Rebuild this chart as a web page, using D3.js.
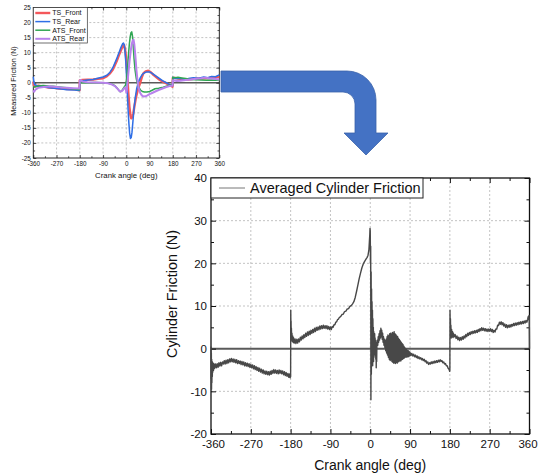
<!DOCTYPE html>
<html>
<head>
<meta charset="utf-8">
<script src="https://cdn.jsdelivr.net/npm/d3@7/dist/d3.min.js"></script>
<style>
body { margin: 0; background: #fff; }
text { font-family: "Liberation Sans", Arial, sans-serif; fill: #111; }
</style>
</head>
<body>
<svg id="fig" width="538" height="476"></svg>
<script>
// ---- data: small chart (measured friction per sensor) ----
var angleTicks = [-360, -270, -180, -90, 0, 90, 180, 270, 360];
var smallYTicks = [-25, -20, -15, -10, -5, 0, 5, 10, 15, 20, 25];
var smallNames = ["TS_Front", "TS_Rear", "ATS_Front", "ATS_Rear"];
var smallColors = ["#f4575a", "#2f6fe6", "#2fa653", "#b982ec"];
var smallWidths = [2.4, 1.5, 1.5, 2];

var tsFront = [[-360,0.4],[-358,-0.9],[-354,-1.2],[-340,-1.0],[-320,-1.3],[-300,-1.6],[-280,-1.7],[-260,-1.9],[-240,-2.0],[-220,-2.1],[-200,-2.2],[-181,-2.5],[-180,0.8],[-170,0.9],[-150,1.0],[-128,1.1],[-110,1.3],[-90,1.5],[-75,2.2],[-63,3.1],[-52,4.4],[-44,5.9],[-37,7.2],[-31,8.6],[-24,10.1],[-18,11.4],[-13,12.2],[-9,12.5],[-5,11.2],[-1,8.6],[2,5],[5,0.9],[8,-3.5],[12,-8],[16,-10.8],[19,-11.8],[23,-11.5],[27,-10.2],[32,-7.5],[38,-4.6],[45,-2.2],[53,-0.2],[60,1.8],[66,3.1],[75,3.8],[85,4.0],[95,3.5],[105,2.6],[118,1.7],[130,0.9],[143,0.3],[156,-0.2],[168,-0.8],[179,-1.3],[180,1.6],[188,1.6],[200,1.4],[220,1.2],[240,1.1],[260,1.3],[280,1.4],[300,1.5],[320,1.6],[340,1.8],[360,2.0]];

var tsRear = [[-360,2.0],[-358,0.5],[-355,-0.6],[-347,-0.9],[-330,-1.2],[-310,-1.5],[-296,-1.7],[-270,-1.9],[-250,-2.1],[-231,-2.3],[-200,-2.4],[-181,-2.6],[-180,0.4],[-170,0.7],[-150,0.9],[-128,1.1],[-110,1.5],[-90,1.9],[-75,2.5],[-63,3.5],[-52,5.0],[-44,6.6],[-37,8.0],[-30,9.6],[-24,11.0],[-18,12.3],[-14,13.0],[-11,13.2],[-8,12.6],[-5,10.5],[-2,7],[1,2],[4,-3.5],[7,-9],[10,-13.5],[13,-16.8],[16,-18.5],[19,-18.2],[22,-16.5],[26,-12.5],[30,-8.5],[35,-4.8],[40,-2],[47,0.3],[55,1.8],[62,2.8],[70,3.3],[80,3.6],[90,3.6],[100,3.1],[110,2.5],[125,1.6],[140,0.7],[155,0],[168,-0.6],[179,-1.0],[180,1.8],[190,1.4],[205,1.5],[220,1.2],[240,1.4],[260,1.7],[280,1.5],[300,1.9],[315,1.7],[330,2.1],[345,2.0],[360,2.6]];

var atsFront = [[-360,-1.2],[-355,-1.4],[-340,-1.1],[-322,-0.9],[-300,-1.1],[-283,-1.2],[-260,-1.4],[-231,-1.7],[-210,-2.0],[-181,-2.3],[-180,0.1],[-150,0.0],[-120,0.1],[-90,0.0],[-70,-0.2],[-55,-0.5],[-44,-1.0],[-35,-1.8],[-28,-2.6],[-24,-3.0],[-19,-2.8],[-14,-2.2],[-8,-1.4],[-3,-0.8],[0,0.5],[3,3],[6,6.5],[9,10],[12,13],[15,15.2],[18,16.6],[21,16.9],[24,15.5],[27,12],[30,8],[34,4.2],[39,1.2],[44,-0.6],[48,-1.5],[55,-2.4],[62,-2.9],[70,-3.1],[80,-3.1],[90,-2.9],[100,-2.5],[111,-2.0],[125,-1.8],[143,-1.5],[158,-1.1],[170,-0.8],[179,-0.6],[180,1.8],[190,1.7],[200,1.8],[215,1.6],[230,1.4],[250,1.1],[270,1.0],[290,0.9],[310,0.8],[330,0.9],[345,0.8],[360,0.9]];

var atsRear = [[-360,-2.5],[-357,-3.0],[-352,-2.3],[-341,-1.7],[-320,-1.4],[-296,-1.2],[-270,-1.4],[-250,-1.6],[-231,-1.7],[-205,-1.8],[-181,-1.9],[-180,0.8],[-176,0.9],[-170,0.4],[-150,0.2],[-120,0.1],[-90,0.0],[-70,-0.2],[-55,-0.6],[-44,-1.1],[-35,-1.9],[-28,-2.6],[-23,-2.9],[-18,-2.8],[-12,-2.3],[-6,-1.6],[-2,-1.8],[0,-3.3],[2,-2.5],[5,0.5],[9,4],[13,7.5],[17,10.5],[21,12.8],[25,14.1],[28,14.3],[31,12.8],[35,9],[39,4.5],[43,1],[48,-1.8],[54,-3.4],[60,-4.2],[67,-4.6],[74,-4.5],[82,-4.2],[90,-3.8],[100,-3.4],[112,-2.9],[125,-2.4],[140,-1.9],[155,-1.4],[168,-1.1],[179,-0.9],[180,0.8],[195,0.6],[210,0.7],[230,0.9],[250,1.1],[270,1.3],[290,1.5],[305,1.7],[320,1.5],[340,1.3],[360,1.1]];

var smallSeries = [tsFront, tsRear, atsFront, atsRear];

// ---- data: big chart (averaged cylinder friction) ----
var bigYTicks = [-20, -10, 0, 10, 20, 30, 40];
var bigLegend = "Averaged Cylinder Friction";

var avgSeg1 = [[-360,0.5],[-359.6,-7],[-359.2,-1],[-358.8,-9.5],[-358.4,-2.5],[-358,-8],[-357.5,-3],[-357,-6.5],[-356.5,-3.2],[-356,-5.5],[-355,-3.4],[-354,-5],[-353,-3.6],[-352,-4.6],[-350,-3.6],[-348,-4.5],[-346,-3.5],[-344,-4.4],[-342,-3.3],[-340,-4.1],[-338,-3.2],[-336,-4.0],[-334,-3.1],[-332,-3.6],[-330,-2.8],[-328,-3.6],[-326,-2.7],[-324,-3.5],[-322,-2.6],[-320,-3.3],[-318,-2.4],[-316,-3.1],[-314,-2.3],[-312,-3.1],[-310,-2.4],[-308,-3.2],[-306,-2.5],[-304,-3.3],[-302,-2.6],[-300,-3.5],[-298,-2.8],[-296,-3.5],[-294,-2.9],[-292,-3.7],[-290,-3.0],[-288,-3.8],[-286,-3.1],[-284,-4.0],[-282,-3.3],[-280,-4.1],[-278,-3.4],[-276,-4.2],[-274,-3.5],[-272,-4.4],[-270,-3.7],[-268,-4.5],[-266,-3.8],[-264,-4.7],[-262,-4.0],[-260,-4.9],[-258,-4.2],[-256,-5.1],[-254,-4.4],[-252,-5.3],[-250,-4.6],[-248,-5.5],[-246,-4.8],[-244,-5.7],[-242,-5.0],[-240,-5.9],[-238,-5.2],[-236,-6.0],[-234,-5.3],[-232,-6.1],[-230,-5.4],[-228,-6.2],[-226,-5.3],[-224,-6.0],[-222,-5.1],[-220,-5.8],[-218,-4.9],[-216,-5.7],[-214,-5.0],[-212,-5.8],[-210,-5.1],[-208,-5.9],[-206,-5.0],[-204,-5.8],[-202,-5.1],[-200,-5.9],[-198,-5.2],[-196,-6.1],[-194,-5.4],[-192,-6.3],[-190,-5.6],[-188,-6.5],[-186,-5.8],[-184,-6.7],[-182,-5.9],[-181,-6.8],[-180.5,-6.2]];

var avgSeg2 = [[-180,-6.6],[-179.7,9],[-179.3,4],[-179,6.5],[-178.6,2.6],[-178.2,4.8],[-177.6,2],[-177,3.6],[-176.2,1.7],[-175.4,3],[-174.5,1.5],[-173.5,2.6],[-172,1.3],[-170,2.3],[-168,1.2],[-166,2.2],[-164,1.3],[-162,2.3],[-160,1.6],[-158,2.7],[-156,2.0],[-154,3.0],[-152,2.3],[-150,3.3],[-148,2.6],[-146,3.6],[-144,2.9],[-142,3.9],[-140,3.1],[-138,4.1],[-136,3.3],[-134,4.3],[-132,3.6],[-130,4.5],[-128,3.8],[-126,4.8],[-124,4.0],[-122,5.0],[-120,4.3],[-118,5.1],[-116,4.4],[-114,5.3],[-112,4.6],[-110,5.4],[-108,4.7],[-106,5.5],[-104,4.8],[-102,5.4],[-100,4.7],[-98,5.4],[-96,4.6],[-94,5.2],[-92,4.5],[-90,5.1],[-88,4.5],[-86,5.2],[-84,5.0],[-82,5.6],[-80,5.6],[-78,6.2],[-76,6.3],[-74,6.8],[-72,6.9],[-70,7.3],[-67,7.5],[-64,8.0],[-61,8.1],[-58,8.7],[-55,8.8],[-52,9.3],[-49,9.4],[-46,9.9],[-43,10.1],[-40,10.5],[-37,11.0],[-34,12.0],[-31,13.4],[-28,14.9],[-25,16.4],[-22,17.7],[-19,18.9],[-16,19.8],[-13,20.4],[-10,20.9],[-7,21.4],[-5,21.9],[-3,23.2],[-2,25],[-1,26.8],[-0.5,28.2]];

var avgSeg3 = [[0,27.5],[0.5,20],[1,24],[1.5,-12],[2,18],[2.5,-6],[3,14],[3.5,-3],[4,11],[4.5,-2],[5,9],[5.5,-4],[6,7],[6.5,-1],[7,5],[7.5,-3],[8,4],[8.5,-2],[9,3],[9.5,-1.5],[10,3.5],[10.5,0],[11,2.5],[11.5,-1],[12,2],[12.5,-2.5],[13,1.5],[13.5,-4.5],[14,1],[14.5,-3],[15,0.5],[16,2],[17,0.8],[18,2.8],[19,1.5],[20,3.5],[21,2],[22,4.2],[23,2.5],[24,4.8],[25,2.8],[26,4.3],[27,2.2],[28,3.6],[29,1.5],[30,2.8],[31,0.8],[32,2.2],[33,0.3],[34,1.8],[35,-0.5],[36,2.2],[37,-1],[38,2.8],[39,-1.5],[40,3.2],[41,-2],[42,3],[43,-2.5],[44,3.5],[45,-2.8],[46,3.6],[47,-2.6],[48,3.4],[49,-3],[50,3.8],[51,-3.2],[52,3.6],[53,-3.4],[54,4],[55,-3.3],[56,3.5],[57,-3.5],[58,3.3],[59,-3.2],[60,3],[61,-3.4],[62,2.8],[63,-3.1],[64,2.4],[65,-3],[66,2.1],[67,-2.8],[68,1.8],[69,-2.9],[70,1.5],[71,-2.6],[72,1.2],[73,-2.5],[74,1],[75,-2.3],[76,0.6],[77,-2.2],[78,0.3],[79,-2],[80,0],[81,-1.9],[82,-0.2],[83,-2],[84,-0.4],[85,-1.8],[86,-0.5],[87,-1.9],[88,-0.7],[89,-1.7],[90,-0.9],[92,-1.6],[94,-1.1],[96,-1.7],[98,-1.3],[100,-1.9],[102,-1.5],[104,-2.1],[106,-1.7],[108,-2.3],[110,-1.9],[112,-2.4],[114,-2.1],[116,-2.6],[118,-2.3],[120,-2.8],[122,-2.5],[124,-3.1],[126,-2.8],[128,-3.4],[130,-3.1],[132,-3.7],[134,-3.3],[136,-3.6],[138,-3.1],[140,-3.5],[142,-3.0],[144,-3.4],[146,-2.9],[148,-3.3],[150,-2.8],[152,-3.2],[154,-2.7],[156,-3.1],[158,-2.6],[160,-3.0],[162,-2.8],[164,-3.3],[166,-3.1],[168,-3.6],[170,-3.5],[172,-4.0],[174,-4.0],[176,-4.6],[178,-4.8],[179.5,-5.3]];

var avgSeg4 = [[180,-5],[180.3,9],[180.8,5],[181.3,7],[181.8,3],[182.3,5.5],[183,2.5],[184,4.5],[185,2.8],[186,4],[187,2.6],[188,3.6],[190,2.8],[192,3.3],[194,2.4],[196,3.0],[198,2.1],[200,2.7],[202,1.9],[204,2.6],[206,2.0],[208,2.8],[210,2.2],[212,3.0],[214,2.5],[216,3.3],[218,2.8],[220,3.6],[222,3.1],[224,3.8],[226,3.3],[228,4.0],[230,3.5],[232,4.1],[234,3.6],[236,4.2],[238,3.7],[240,4.3],[242,3.8],[244,4.5],[246,4.0],[248,4.7],[250,4.2],[252,4.9],[254,4.3],[256,4.8],[258,4.2],[260,4.7],[262,4.1],[264,4.6],[266,4.0],[268,4.6],[270,4.1],[272,4.7],[274,4.0],[276,4.5],[278,3.8],[280,4.3],[282,3.9],[284,4.6],[286,4.6],[288,5.5],[290,5.4],[292,6.2],[294,5.7],[296,6.3],[298,5.6],[300,6.1],[302,5.3],[304,5.8],[306,5.0],[308,5.6],[310,4.9],[312,5.5],[314,5.0],[316,5.6],[318,5.1],[320,5.7],[322,5.3],[324,5.9],[326,5.4],[328,6.0],[330,5.5],[332,6.1],[334,5.6],[336,6.2],[338,5.7],[340,6.3],[342,5.8],[344,6.4],[346,5.9],[348,6.5],[350,6.0],[352,6.6],[354,6.2],[356,6.9],[357,7.5],[358,6.8],[359,7.8],[359.5,7],[360,0]];

var avgFriction = avgSeg1.concat(avgSeg2, avgSeg3, avgSeg4);

// ---- layout ----
var svg = d3.select("#fig");
var small = {left: 33.3, right: 219.3, top: 7.5, bottom: 158};
var big = {left: 211, right: 529.5, top: 178, bottom: 434};

var xs = d3.scaleLinear().domain([-360, 360]).range([small.left, small.right]);
var ys = d3.scaleLinear().domain([-25, 25]).range([small.bottom, small.top]);
var xb = d3.scaleLinear().domain([-360, 360]).range([big.left, big.right]);
var yb = d3.scaleLinear().domain([-20, 40]).range([big.bottom, big.top]);

// plain hyphen for negatives, like the original plots
var plainFmt = function(d) { return String(d); };

// draws the dotted grid, zero line, box and inward ticks of one panel
function drawFrame(x, y, yTicks, box, opt) {
    var g = svg.append("g");
    var xMid = d3.range(0, angleTicks.length - 1).map(function(i) { return (angleTicks[i] + angleTicks[i + 1]) / 2; });
    var yMid = d3.range(0, yTicks.length - 1).map(function(i) { return (yTicks[i] + yTicks[i + 1]) / 2; });

    g.selectAll(".gx").data(angleTicks.slice(1, -1)).enter().append("line")
        .attr("x1", x).attr("x2", x).attr("y1", box.top).attr("y2", box.bottom)
        .attr("stroke", "#b4b4b4").attr("stroke-width", 0.8).attr("stroke-dasharray", "2,2");
    g.selectAll(".gy").data(yTicks.filter(function(v) { return v != 0 && v != yTicks[0] && v != yTicks[yTicks.length - 1]; }))
        .enter().append("line")
        .attr("x1", box.left).attr("x2", box.right).attr("y1", y).attr("y2", y)
        .attr("stroke", "#b4b4b4").attr("stroke-width", 0.8).attr("stroke-dasharray", "2,2");

    g.append("line").attr("class", "zero")
        .attr("x1", box.left).attr("x2", box.right).attr("y1", y(0)).attr("y2", y(0))
        .attr("stroke", "#5a5a5a").attr("stroke-width", opt.zeroW);

    var bottomAxis = g.append("g").attr("transform", "translate(0," + box.bottom + ")")
        .call(d3.axisBottom(x).tickValues(angleTicks).tickFormat(plainFmt).tickSizeInner(-opt.major).tickSizeOuter(0).tickPadding(opt.padX));
    g.append("g").attr("transform", "translate(" + box.left + ",0)")
        .call(d3.axisLeft(y).tickValues(yTicks).tickFormat(plainFmt).tickSizeInner(-opt.major).tickSizeOuter(0).tickPadding(opt.padY));
    g.append("g").attr("transform", "translate(0," + box.top + ")")
        .call(d3.axisTop(x).tickValues(angleTicks).tickSizeInner(-opt.major).tickSizeOuter(0).tickFormat(""));
    g.append("g").attr("transform", "translate(" + box.right + ",0)")
        .call(d3.axisRight(y).tickValues(yTicks).tickSizeInner(-opt.major).tickSizeOuter(0).tickFormat(""));
    g.append("g").attr("transform", "translate(0," + box.bottom + ")")
        .call(d3.axisBottom(x).tickValues(xMid).tickSizeInner(-opt.minor).tickSizeOuter(0).tickFormat(""));
    g.append("g").attr("transform", "translate(0," + box.top + ")")
        .call(d3.axisTop(x).tickValues(xMid).tickSizeInner(-opt.minor).tickSizeOuter(0).tickFormat(""));
    g.append("g").attr("transform", "translate(" + box.left + ",0)")
        .call(d3.axisLeft(y).tickValues(yMid).tickSizeInner(-opt.minor).tickSizeOuter(0).tickFormat(""));
    g.append("g").attr("transform", "translate(" + box.right + ",0)")
        .call(d3.axisRight(y).tickValues(yMid).tickSizeInner(-opt.minor).tickSizeOuter(0).tickFormat(""));

    g.selectAll(".domain").remove();
    g.selectAll(".tick line").attr("stroke", "#111").attr("stroke-width", opt.tickW);
    g.selectAll(".tick text").attr("font-size", opt.tickFont).attr("font-family", "Liberation Sans, Arial, sans-serif").attr("fill", "#111");
    // keep the first/last angle labels inside the picture
    bottomAxis.selectAll(".tick text").attr("dx", function(d) { return d == 360 ? -opt.edgeShift : (d == -360 ? opt.edgeShift : 0); });

    g.append("rect").attr("x", box.left).attr("y", box.top)
        .attr("width", box.right - box.left).attr("height", box.bottom - box.top)
        .attr("fill", "none").attr("stroke", "#111").attr("stroke-width", opt.boxW);
    return g;
}

// ---- small chart ----
drawFrame(xs, ys, smallYTicks, small, {zeroW: 1.4, tickFont: "6.3px", major: 3, minor: 1.8, padX: 4, padY: 2.5, tickW: 0.7, boxW: 0.9, edgeShift: 0});

var lineS = d3.line().x(function(d) { return xs(d[0]); }).y(function(d) { return ys(d[1]); });
svg.append("g").selectAll("path").data(smallSeries).enter().append("path")
    .attr("d", lineS)
    .attr("fill", "none")
    .attr("stroke", function(d, i) { return smallColors[i]; })
    .attr("stroke-width", function(d, i) { return smallWidths[i]; })
    .attr("stroke-linejoin", "round");

// small legend
var legS = svg.append("g").attr("transform", "translate(" + small.left + "," + small.top + ")");
legS.append("rect").attr("width", 54).attr("height", 35.5)
    .attr("fill", "#fff").attr("stroke", "#333").attr("stroke-width", 0.7);
smallNames.forEach(function(name, i) {
    var yy = 5.5 + i * 8.6;
    legS.append("line").attr("x1", 2).attr("x2", 17).attr("y1", yy).attr("y2", yy)
        .attr("stroke", smallColors[i]).attr("stroke-width", smallWidths[i]);
    legS.append("text").attr("x", 19).attr("y", yy + 2.4).attr("font-size", "7px").attr("fill", "#444").text(name);
});

svg.append("text").attr("x", (small.left + small.right) / 2).attr("y", 177.5)
    .attr("text-anchor", "middle").attr("font-size", "7.8px").text("Crank angle (deg)");
svg.append("text").attr("transform", "translate(15.5,81) rotate(-90)")
    .attr("text-anchor", "middle").attr("font-size", "7.2px").text("Measured Friction (N)");

// ---- arrow between the panels ----
var ap = d3.path();
ap.moveTo(221, 71);
ap.lineTo(347, 71);
ap.arcTo(376, 71, 376, 100, 29);
ap.lineTo(376, 133);
ap.lineTo(388, 133);
ap.lineTo(366, 155);
ap.lineTo(344, 133);
ap.lineTo(355, 133);
ap.lineTo(355, 104);
ap.arcTo(355, 92, 343, 92, 12);
ap.lineTo(221, 92);
ap.closePath();
svg.append("path").attr("d", ap.toString())
    .attr("fill", "#4472c4").attr("stroke", "#3b63ab").attr("stroke-width", 0.8);

// ---- big chart ----
drawFrame(xb, yb, bigYTicks, big, {zeroW: 2, tickFont: "11.5px", major: 5, minor: 3, padX: 6, padY: 4, tickW: 1, boxW: 1.3, edgeShift: 2});

var lineB = d3.line().x(function(d) { return xb(d[0]); }).y(function(d) { return yb(d[1]); });
svg.append("path").datum(avgFriction)
    .attr("d", lineB)
    .attr("fill", "none")
    .attr("stroke", "#484848")
    .attr("stroke-width", 1.4)
    .attr("stroke-linejoin", "round");

var legB = svg.append("g").attr("transform", "translate(" + big.left + "," + big.top + ")");
legB.append("rect").attr("width", 212).attr("height", 20)
    .attr("fill", "#fff").attr("stroke", "#222").attr("stroke-width", 1);
legB.append("line").attr("x1", 8).attr("x2", 34).attr("y1", 10).attr("y2", 10)
    .attr("stroke", "#777").attr("stroke-width", 1);
legB.append("text").attr("x", 39).attr("y", 15.2).attr("font-size", "14.5px").text(bigLegend);

svg.append("text").attr("x", (big.left + big.right) / 2).attr("y", 470)
    .attr("text-anchor", "middle").attr("font-size", "14px").text("Crank angle (deg)");
svg.append("text").attr("transform", "translate(177,294) rotate(-90)")
    .attr("text-anchor", "middle").attr("font-size", "14.4px").text("Cylinder Friction (N)");
</script>
</body>
</html>
